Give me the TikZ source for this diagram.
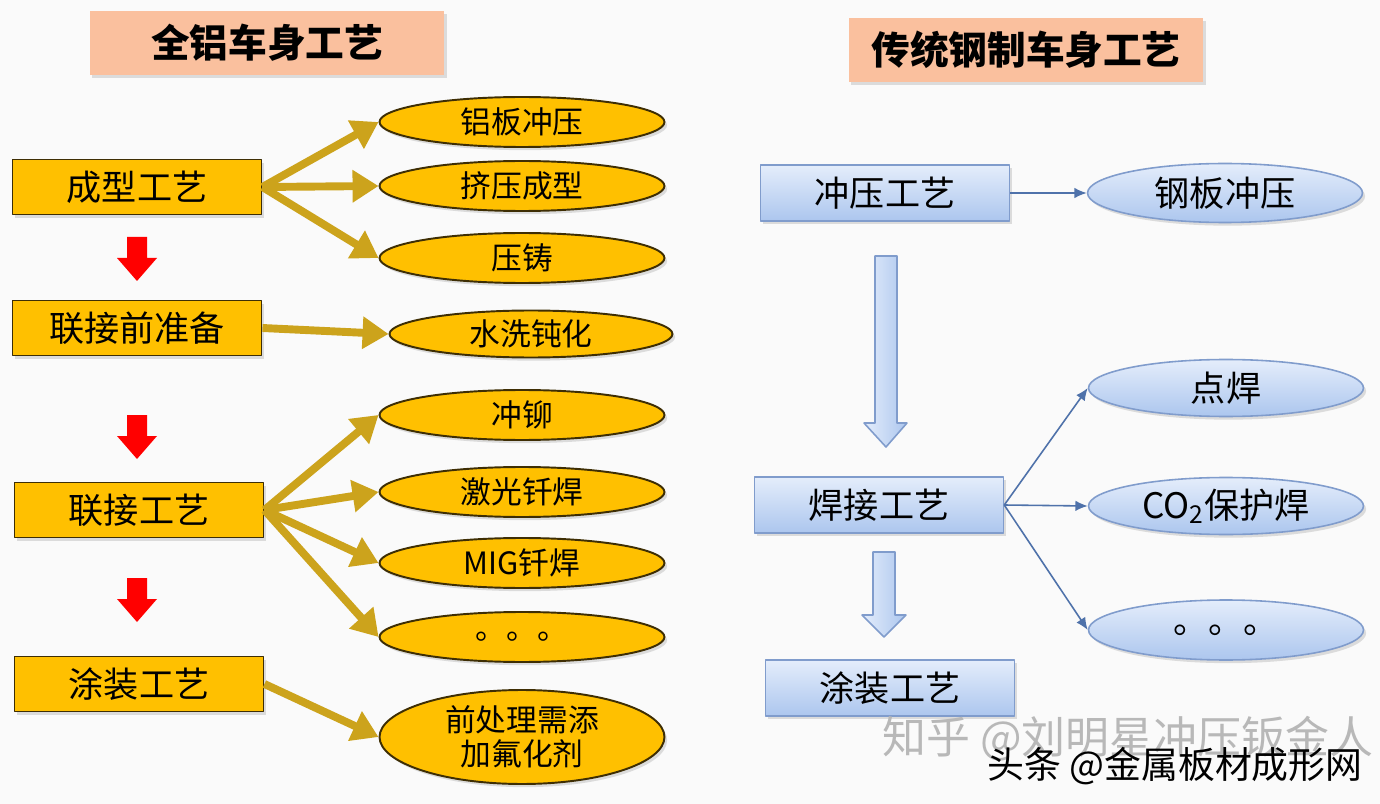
\documentclass[tikz,border=0pt]{standalone}
\usepackage{fontspec}
\setmainfont{Noto Sans CJK SC}
\usetikzlibrary{shapes.geometric, arrows.meta, shadows}
% 颜色
\definecolor{jin}{RGB}{255,192,0}
\definecolor{jinbian}{RGB}{62,46,4}
\definecolor{jinjian}{RGB}{204,163,28}
\definecolor{fen}{RGB}{250,192,158}
\definecolor{landing}{RGB}{228,237,251}
\definecolor{landi}{RGB}{172,198,238}
\definecolor{lanbian}{RGB}{128,156,204}
\definecolor{lanjian}{RGB}{79,114,170}
\tikzset{
	yinying/.style={drop shadow={opacity=0.25, shadow xshift=1.5pt, shadow yshift=-1.8pt}},
	biaoti/.style={fill=fen, minimum width=7.1cm, minimum height=1.27cm, font=\fontsize{22pt}{26pt}\selectfont\bfseries, yinying},
	jinbox/.style={draw=jinbian, line width=1.1pt, fill=jin, minimum width=4.98cm, minimum height=1.1cm, font=\fontsize{20pt}{24pt}\selectfont, yinying},
	jintuo/.style={ellipse, draw=jinbian, line width=1.1pt, fill=jin, minimum width=5.7cm, minimum height=1cm, inner sep=0pt, font=\fontsize{17.5pt}{20pt}\selectfont, yinying},
	jinxian/.style={draw=jinjian, line width=4.5pt, -{Triangle[length=0.52cm, width=0.62cm]}},
	lanbox/.style={draw=lanbian, line width=0.9pt, top color=landing, bottom color=landi, minimum width=4.98cm, minimum height=1.12cm, font=\fontsize{20pt}{24pt}\selectfont, yinying},
	lantuo/.style={ellipse, draw=lanbian, line width=0.9pt, top color=landing, bottom color=landi, minimum width=5.5cm, minimum height=1.14cm, inner sep=0pt, font=\fontsize{20pt}{24pt}\selectfont, yinying},
	lanxian/.style={draw=lanjian, line width=0.9pt, -{Latex[length=7pt, width=6pt]}},
	lankuai/.style={draw=lanbian, line width=0.9pt, left color=landing, right color=landi},
}
\begin{document}
\begin{tikzpicture}[x=0.02cm, y=-0.02cm, line join=round]
	% 画布
	\fill[white!98!black] (0,0) rectangle (1380,804);
	\useasboundingbox (0,0) rectangle (1380,804);
	% 标题
	\node[biaoti] (t1) at (267,43) {全铝车身工艺};
	\node[biaoti] (t2) at (1026,50) {传统钢制车身工艺};
	% 左侧：全铝车身
	\node[jinbox] (cx) at (137,187) {成型工艺};
	\node[jinbox] (lq) at (137,328) {联接前准备};
	\node[jinbox] (lj) at (139,510) {联接工艺};
	\node[jinbox] (tz1) at (139,684) {涂装工艺};
	%
	\node[jintuo] (lb) at (522,122) {铝板冲压};
	\node[jintuo] (jy) at (522,186) {挤压成型};
	\node[jintuo] (yz) at (522,258) {压铸};
	\node[jintuo, minimum width=5.66cm, minimum height=0.94cm] (sx) at (531,334) {水洗钝化};
	\node[jintuo] (cm) at (522,415) {冲铆};
	\node[jintuo] (jg) at (522,492) {激光钎焊};
	\node[jintuo] (mig) at (522,563) {MIG钎焊};
	\node[jintuo] (dd1) at (522,637) {。。。};
	\node[jintuo, minimum height=1.88cm, align=center, font=\fontsize{17.5pt}{19.5pt}\selectfont] (qcl) at (522,737) {前处理需添\\加氟化剂};
	% 金色箭头
	\foreach \e in {lb, jy, yz}
		\draw[jinxian] (cx.east) -- (\e.west);
	\draw[jinxian] (lq.east) -- (sx.west);
	\foreach \e in {cm, jg, mig, dd1}
		\draw[jinxian] (lj.east) -- (\e.west);
	\draw[jinxian] (tz1.east) -- (qcl.west);
	% 红色箭头
	\foreach \yt in {237,415,578}
		\fill[red] (127,\yt) -- (147,\yt) -- (147,{\yt+21}) -- (157,{\yt+21}) -- (137,{\yt+44}) -- (117,{\yt+21}) -- (127,{\yt+21}) -- cycle;
	% 右侧：传统钢制车身
	\node[lanbox] (cy) at (885,193) {冲压工艺};
	\node[lanbox] (hj) at (879,505) {焊接工艺};
	\node[lanbox] (tz2) at (890,688) {涂装工艺};
	%
	\node[lantuo, minimum height=1.18cm] (gb) at (1225,193) {钢板冲压};
	\node[lantuo] (dh) at (1226,388) {点焊};
	\node[lantuo] (co) at (1226,506) {CO\textsubscript{2}保护焊};
	\node[lantuo, minimum height=1.2cm] (dd2) at (1226,630) {。。。};
	% 细箭头
	\draw[lanxian] (cy.east) -- (gb.west);
	\foreach \e in {dh, co, dd2}
		\draw[lanxian] (hj.east) -- (\e.west);
	% 空心箭头
	\draw[lankuai] (875,256) -- (897,256) -- (897,423) -- (907,423) -- (886,447) -- (864,423) -- (875,423) -- cycle;
	\draw[lankuai] (873,552) -- (895,552) -- (895,615) -- (906,615) -- (884,637) -- (862,615) -- (873,615) -- cycle;
	% 水印
	\node[text=black!28, font=\fontsize{25pt}{28pt}\selectfont] (sy1) at (1128,739) {知乎 @刘明星冲压钣金人};
	\node[text=black, font=\fontsize{21pt}{24pt}\selectfont] (sy2) at (1175,766) {头条 @金属板材成形网};
\end{tikzpicture}
\end{document}
